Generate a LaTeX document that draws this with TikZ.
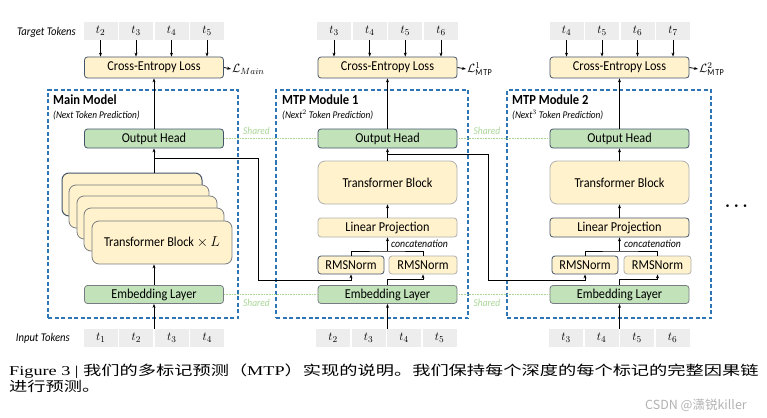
\documentclass[tikz,border=0pt]{standalone}
\usepackage{fontspec}
\usepackage{amsmath}
\setmainfont{Carlito}[FakeStretch=0.9]
\newfontfamily\cjkfont{Noto Sans CJK SC}[FakeStretch=1.35]
\newfontfamily\capfont{Liberation Serif}[FakeStretch=1.35]
\newfontfamily\markfont{Noto Sans CJK SC}
\usetikzlibrary{arrows.meta}
\definecolor{mtp_yellow}{RGB}{255, 242, 204}
\definecolor{mtp_green}{RGB}{194, 226, 186}
\definecolor{mtp_grey}{RGB}{237, 237, 237}
\definecolor{mtp_blue}{RGB}{46, 117, 182}
\definecolor{mtp_dark}{RGB}{68, 84, 106}
\definecolor{mtp_mid}{RGB}{120, 124, 130}
\definecolor{mtp_light}{RGB}{175, 175, 175}
\definecolor{mtp_shared}{RGB}{169, 214, 150}
\tikzstyle{yn}=[rectangle,rounded corners=3pt,fill=mtp_yellow,draw=mtp_dark,
  line width=0.8pt,inner sep=0pt,minimum width=139pt,minimum height=19pt,
  font=\fontsize{13.6}{15}\selectfont]
\tikzstyle{gn}=[yn,fill=mtp_green]
\tikzstyle{tb}=[yn,rounded corners=7pt,minimum height=43pt]
\tikzstyle{rms}=[yn,minimum width=67pt,minimum height=18pt]
\tikzstyle{tok}=[rectangle,fill=mtp_grey,inner sep=0pt,minimum width=34pt,
  minimum height=18pt,font=\fontsize{12.5}{14}\selectfont]
\tikzstyle{mod}=[rectangle,draw=mtp_blue,line width=1.1pt,inner sep=0pt,
  dash pattern=on 4pt off 2.5pt,minimum height=228pt]
\tikzstyle{title}=[anchor=west,inner sep=0pt,font=\bfseries\fontsize{13.9}{15}\selectfont]
\tikzstyle{sub}=[anchor=west,inner sep=0pt,font=\itshape\fontsize{10.3}{12}\selectfont]
\tikzstyle{side}=[anchor=east,inner sep=0pt,font=\itshape\fontsize{11.8}{13}\selectfont]
\tikzstyle{loss}=[anchor=west,inner sep=1pt,font=\fontsize{13}{14}\selectfont]
\tikzstyle{sh}=[text=mtp_shared,inner sep=0pt,font=\itshape\fontsize{10.5}{12}\selectfont]
\tikzstyle{shl}=[draw=mtp_shared,line width=0.6pt,densely dotted]
\tikzstyle{cat}=[anchor=west,inner sep=0pt,font=\itshape\fontsize{10.9}{12}\selectfont]
\tikzstyle{ar}=[line width=0.8pt,-{Stealth[length=4pt,width=3pt]}]
\tikzstyle{ln}=[line width=0.8pt]
\tikzstyle{captxt}=[anchor=west,inner sep=0pt,font=\fontsize{13.5}{15}\selectfont]
\tikzstyle{none}=[]

\begin{document}
\begin{tikzpicture}[x=1pt,y=-1pt]
            \useasboundingbox (0,0) rectangle (767,417);
            % main model
            \node [style=side] (0) at (76, 32) {Target Tokens};
            \node [style=tok] (1) at (100.5, 31) {$t_{2}$};
            \node [style=tok] (2) at (136, 31) {$t_{3}$};
            \node [style=tok] (3) at (171.5, 31) {$t_{4}$};
            \node [style=tok] (4) at (207, 31) {$t_{5}$};
            \node [style=yn, minimum height=21pt] (5) at (154, 67.5) {Cross-Entropy Loss};
            \node [style=loss] (6) at (231, 69) {$\mathcal{L}_{Main}$};
            \node [style=mod, minimum width=190pt] (7) at (143, 204) {};
            \node [style=title] (8) at (53, 100) {Main Model};
            \node [style=sub] (9) at (53, 115) {(Next Token Prediction)};
            \node [style=gn] (10) at (154, 138.5) {Output Head};
            \node [style=tb, minimum width=140pt, draw=mtp_dark, line width=1pt] (11) at (132, 194.5) {};
            \node [style=tb, minimum width=140pt, draw=mtp_mid] (12) at (139, 206.5) {};
            \node [style=tb, minimum width=140pt, draw=mtp_mid] (13) at (147, 217.5) {};
            \node [style=tb, minimum width=140pt, draw=mtp_mid] (14) at (154, 229.5) {};
            \node [style=tb, minimum width=140pt, draw=mtp_mid] (15) at (162, 242.5) {Transformer Block $\times\, L$};
            \node [style=gn, minimum height=18pt, draw=mtp_mid] (16) at (154, 294.5) {Embedding Layer};
            \node [style=side] (17) at (70, 338) {Input Tokens};
            \node [style=tok] (18) at (100.75, 338) {$t_{1}$};
            \node [style=tok] (19) at (136.25, 338) {$t_{2}$};
            \node [style=tok] (20) at (171.75, 338) {$t_{3}$};
            \node [style=tok] (21) at (207.25, 338) {$t_{4}$};
            \coordinate (22) at (154, 158);
            \coordinate (23) at (258, 280);
            \node [style=sh] (24) at (256.5, 131) {Shared};
            \node [style=sh] (25) at (256.5, 302.5) {Shared};
            % mtp module 1
            \node [style=tok] (26) at (334, 31) {$t_{3}$};
            \node [style=tok] (27) at (369.7, 31) {$t_{4}$};
            \node [style=tok] (28) at (405.3, 31) {$t_{5}$};
            \node [style=tok] (29) at (441, 31) {$t_{6}$};
            \node [style=yn, minimum height=21pt] (30) at (387.5, 67.5) {Cross-Entropy Loss};
            \node [style=loss] (31) at (466, 69) {$\mathcal{L}^{1}_{\mathrm{MTP}}$};
            \node [style=mod, minimum width=192pt] (32) at (372, 204) {};
            \node [style=title] (33) at (282, 100) {MTP Module 1};
            \node [style=sub] (34) at (282, 115) {(Next$^{2}$ Token Prediction)};
            \node [style=gn] (35) at (387.5, 138.5) {Output Head};
            \node [style=tb, draw=mtp_light] (36) at (387.5, 182.5) {Transformer Block};
            \node [style=yn, draw=mtp_light] (37) at (387.5, 227.5) {Linear Projection};
            \node [style=rms, minimum width=66pt, draw=mtp_dark] (38) at (351, 265) {RMSNorm};
            \node [style=rms, minimum width=68pt, draw=mtp_light] (39) at (423, 265) {RMSNorm};
            \node [style=cat] (40) at (391, 244) {concatenation};
            \node [style=gn, minimum height=18pt, draw=mtp_mid] (41) at (387.5, 294.5) {Embedding Layer};
            \node [style=tok] (42) at (333, 338) {$t_{2}$};
            \node [style=tok] (43) at (368.5, 338) {$t_{3}$};
            \node [style=tok] (44) at (404, 338) {$t_{4}$};
            \node [style=tok] (45) at (439.5, 338) {$t_{5}$};
            \coordinate (46) at (387.5, 251);
            \coordinate (47) at (387.5, 154);
            \coordinate (48) at (488, 280);
            \node [style=sh] (49) at (487, 131) {Shared};
            \node [style=sh] (50) at (487, 302.5) {Shared};
            % mtp module 2
            \node [style=tok] (51) at (566.5, 31) {$t_{4}$};
            \node [style=tok] (52) at (602, 31) {$t_{5}$};
            \node [style=tok] (53) at (637.5, 31) {$t_{6}$};
            \node [style=tok] (54) at (673, 31) {$t_{7}$};
            \node [style=yn, minimum height=21pt] (55) at (619.5, 67.5) {Cross-Entropy Loss};
            \node [style=loss] (56) at (698, 69) {$\mathcal{L}^{2}_{\mathrm{MTP}}$};
            \node [style=mod, minimum width=204pt] (57) at (609, 204) {};
            \node [style=title] (58) at (512, 100) {MTP Module 2};
            \node [style=sub] (59) at (512, 115) {(Next$^{3}$ Token Prediction)};
            \node [style=gn] (60) at (619.5, 138.5) {Output Head};
            \node [style=tb, draw=mtp_light] (61) at (619.5, 182.5) {Transformer Block};
            \node [style=yn] (62) at (619.5, 227.5) {Linear Projection};
            \node [style=rms, minimum width=66pt, draw=mtp_dark] (63) at (585, 265) {RMSNorm};
            \node [style=rms, minimum width=67pt, draw=mtp_light] (64) at (657.5, 265) {RMSNorm};
            \node [style=cat] (65) at (624, 243.5) {concatenation};
            \node [style=gn, minimum height=18pt, draw=mtp_mid] (66) at (619.5, 294.5) {Embedding Layer};
            \node [style=tok] (67) at (566, 338) {$t_{3}$};
            \node [style=tok] (68) at (601.5, 338) {$t_{4}$};
            \node [style=tok] (69) at (637, 338) {$t_{5}$};
            \node [style=tok] (70) at (672.5, 338) {$t_{6}$};
            \coordinate (71) at (619.5, 251);
            \node [style=none, font=\bfseries\fontsize{16}{16}\selectfont] (72) at (738, 206) {$\boldsymbol{\cdots}$};
            % caption
            \node [style=captxt] (73) at (9, 371) {{\capfont Figure 3 | }{\cjkfont 我们的多标记预测（}{\capfont MTP}{\cjkfont ）实现的说明。我们保持每个深度的每个标记的完整因果链}};
            \node [style=captxt] (74) at (9, 386.5) {\cjkfont 进行预测。};
            \node [style=captxt, text=black!30, font=\fontsize{12.5}{14}\selectfont] (75) at (645, 405) {\markfont CSDN @潇锐killer};
            % main model wires
            \draw [style=ar] (1.south) to (1.south |- 5.north);
            \draw [style=ar] (2.south) to (2.south |- 5.north);
            \draw [style=ar] (3.south) to (3.south |- 5.north);
            \draw [style=ar] (4.south) to (4.south |- 5.north);
            \draw [style=ar] (5.east) to (6.west);
            \draw [style=ar] (10.north) to (5.south);
            \draw [style=ar] (11.north -| 10.south) to (10.south);
            \draw [style=ar] (16.north) to (16.north |- 15.south);
            \draw [style=ar] (16.south |- 19.north) to (16.south);
            \draw [style=ar] (22) -| (23) -| (38.south);
            \draw [style=shl] (10.east) to (35.west);
            \draw [style=shl] (16.east) to (41.west);
            % mtp module 1 wires
            \draw [style=ar] (26.south) to (26.south |- 30.north);
            \draw [style=ar] (27.south) to (27.south |- 30.north);
            \draw [style=ar] (28.south) to (28.south |- 30.north);
            \draw [style=ar] (29.south) to (29.south |- 30.north);
            \draw [style=ar] (30.east) to (31.west);
            \draw [style=ar] (35.north) to (30.south);
            \draw [style=ar] (36.north) to (35.south);
            \draw [style=ar] (37.north) to (36.south);
            \draw [style=ln] (38.north) |- (46) -| (39.north);
            \draw [style=ar] (46) to (37.south);
            \draw [style=ar] (41.north) -- ++(0, -6) -| (39.south);
            \draw [style=ar] (41.south |- 44.north) to (41.south);
            \draw [style=ar] (47) -| (48) -| (63.south);
            \draw [style=shl] (35.east) to (60.west);
            \draw [style=shl] (41.east) to (66.west);
            % mtp module 2 wires
            \draw [style=ar] (51.south) to (51.south |- 55.north);
            \draw [style=ar] (52.south) to (52.south |- 55.north);
            \draw [style=ar] (53.south) to (53.south |- 55.north);
            \draw [style=ar] (54.south) to (54.south |- 55.north);
            \draw [style=ar] (55.east) to (56.west);
            \draw [style=ar] (60.north) to (55.south);
            \draw [style=ar] (61.north) to (60.south);
            \draw [style=ar] (62.north) to (61.south);
            \draw [style=ln] (63.north) |- (71) -| (64.north);
            \draw [style=ar] (71) to (62.south);
            \draw [style=ar] (66.north) -- ++(0, -6) -| (64.south);
            \draw [style=ar] (66.south |- 69.north) to (66.south);
    \end{tikzpicture}
\end{document}
